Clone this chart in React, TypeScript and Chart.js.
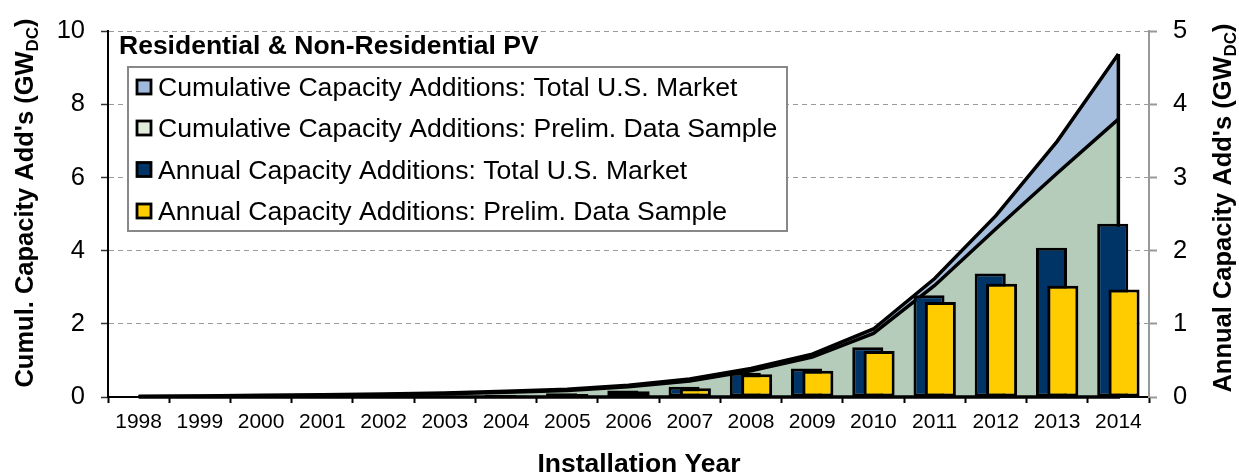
import React, { useEffect, useRef } from 'react';
import { Chart, registerables } from 'chart.js';

Chart.register(...registerables);

// ---------- data ----------
const years = ['1998', '1999', '2000', '2001', '2002', '2003', '2004', '2005', '2006', '2007', '2008', '2009', '2010', '2011', '2012', '2013', '2014'];
// cumulative capacity (GW DC, left axis)
const cumulTotal = [0.02, 0.03, 0.045, 0.06, 0.08, 0.11, 0.16, 0.21, 0.32, 0.49, 0.78, 1.17, 1.86, 3.24, 4.96, 6.99, 9.38];
const cumulPrelim = [0.01, 0.02, 0.03, 0.04, 0.06, 0.09, 0.13, 0.18, 0.28, 0.44, 0.72, 1.09, 1.74, 3.05, 4.6, 6.12, 7.6];
// annual capacity (GW DC, right axis)
const annualTotal = [0.005, 0.006, 0.008, 0.01, 0.015, 0.02, 0.03, 0.05, 0.09, 0.14, 0.33, 0.39, 0.68, 1.39, 1.69, 2.04, 2.37];
const annualPrelim = [0.003, 0.004, 0.005, 0.006, 0.01, 0.015, 0.02, 0.04, 0.08, 0.12, 0.31, 0.36, 0.63, 1.30, 1.55, 1.52, 1.47];

const legendTitle = 'Residential & Non-Residential PV';
const legendLabels = [
  'Cumulative Capacity Additions: Total U.S. Market',
  'Cumulative Capacity Additions: Prelim. Data Sample',
  'Annual Capacity Additions: Total U.S. Market',
  'Annual Capacity Additions: Prelim. Data Sample',
];
const legendSwatches = ['#9FBADC', '#E2ECDA', '#003366', '#FFCC00'];
const xTitle = 'Installation Year';
const leftTitle = ["Cumul. Capacity Add's (GW", 'DC', ')'];
const rightTitle = ["Annual Capacity Add's (GW", 'DC', ')'];

const FONT = '"Liberation Sans", Arial, Helvetica, sans-serif';

function drawRichText(ctx: CanvasRenderingContext2D, parts: string[], cx: number, cy: number) {
  ctx.save();
  ctx.translate(cx, cy);
  ctx.rotate(-Math.PI / 2);
  const big = 'bold 25.5px ' + FONT;
  const small = 'bold 17px ' + FONT;
  ctx.font = big;
  const w0 = ctx.measureText(parts[0]).width;
  const w2 = ctx.measureText(parts[2]).width;
  ctx.font = small;
  const w1 = ctx.measureText(parts[1]).width;
  let x = -(w0 + w1 + w2) / 2;
  ctx.fillStyle = '#000';
  ctx.textBaseline = 'alphabetic';
  ctx.textAlign = 'left';
  ctx.font = big;
  ctx.fillText(parts[0], x, 9);
  x += w0;
  ctx.font = small;
  ctx.fillText(parts[1], x, 14);
  x += w1;
  ctx.font = big;
  ctx.fillText(parts[2], x, 9);
  ctx.restore();
}

const customPlugin = {
  id: 'customDecor',
  beforeDatasetDraw(chart: any, args: any) {
    if (args.index === 3) return false;
  },
  afterDatasetDraw(chart: any, args: any) {
    if (args.index === 1) {
      // close the area outline: right edge and bottom edge, like the spreadsheet area border
      const ctx = chart.ctx;
      const last = years.length - 1;
      const x0 = chart.scales.x.getPixelForValue(0);
      const x1 = chart.scales.x.getPixelForValue(last);
      const yTop = chart.scales.y.getPixelForValue(cumulTotal[last]);
      const yBot = chart.scales.y.getPixelForValue(0);
      ctx.save();
      ctx.strokeStyle = '#000';
      ctx.lineWidth = 3.5;
      ctx.lineJoin = 'miter';
      ctx.beginPath();
      ctx.moveTo(x1, yTop);
      ctx.lineTo(x1, yBot);
      ctx.lineTo(x0, yBot);
      ctx.stroke();
      ctx.restore();
    }
  },
  afterDatasetsDraw(chart: any) {
    const meta = chart.getDatasetMeta(3);
    chart.ctx.save();
    meta.controller.draw();
    chart.ctx.restore();
  },
  afterDraw(chart: any) {
    const ctx: CanvasRenderingContext2D = chart.ctx;
    // legend frame
    ctx.save();
    ctx.fillStyle = '#fff';
    ctx.fillRect(128, 67, 659, 164);
    ctx.strokeStyle = '#888';
    ctx.lineWidth = 2;
    ctx.strokeRect(128, 67, 659, 164);
    // legend title
    ctx.fillStyle = '#000';
    ctx.font = 'bold 26.5px ' + FONT;
    ctx.textBaseline = 'alphabetic';
    ctx.textAlign = 'left';
    ctx.fillText(legendTitle, 119, 54);
    // legend items
    const centers = [87, 128, 169.5, 211];
    ctx.font = '26.6px ' + FONT;
    legendLabels.forEach((lab, i) => {
      const cy = centers[i];
      ctx.fillStyle = legendSwatches[i];
      ctx.fillRect(137, cy - 7, 14, 14);
      ctx.strokeStyle = '#000';
      ctx.lineWidth = 2.8;
      ctx.strokeRect(137, cy - 7, 14, 14);
      ctx.fillStyle = '#000';
      ctx.fillText(lab, 158, cy + 9.3);
    });
    // x title
    ctx.font = 'bold 26.5px ' + FONT;
    ctx.textAlign = 'center';
    ctx.fillText(xTitle, 639, 472);
    ctx.restore();
    drawRichText(ctx, leftTitle, 24, 203);
    drawRichText(ctx, rightTitle, 1222, 208);
  },
};

export default function App() {
  const ref = useRef<HTMLCanvasElement | null>(null);
  useEffect(() => {
    if (!ref.current) return;
    const chart = new Chart(ref.current, {
      type: 'bar',
      data: {
        labels: years,
        datasets: [
          {
            type: 'line',
            label: legendLabels[0],
            data: cumulTotal,
            yAxisID: 'y',
            fill: 'origin',
            backgroundColor: '#A7BFDE',
            borderColor: '#000',
            borderWidth: 3.5,
            pointRadius: 0,
            tension: 0,
            order: 4,
          } as any,
          {
            type: 'line',
            label: legendLabels[1],
            data: cumulPrelim,
            yAxisID: 'y',
            fill: 'origin',
            backgroundColor: '#B5CCBB',
            borderColor: '#000',
            borderWidth: 3.5,
            pointRadius: 0,
            tension: 0,
            order: 3,
          } as any,
          {
            type: 'bar',
            label: legendLabels[2],
            data: annualTotal,
            yAxisID: 'y1',
            backgroundColor: '#003366',
            borderColor: '#000',
            borderWidth: 3,
            borderSkipped: false,
            categoryPercentage: 0.37,
            barPercentage: 2.74,
            order: 1,
          } as any,
          {
            type: 'bar',
            label: legendLabels[3],
            data: annualPrelim,
            yAxisID: 'y1',
            backgroundColor: '#FFCC00',
            borderColor: '#000',
            borderWidth: 3,
            borderSkipped: false,
            categoryPercentage: 0.37,
            barPercentage: 2.74,
            order: 2,
          } as any,
        ],
      },
      options: {
        responsive: false,
        animation: false,
        devicePixelRatio: 1,
        layout: { padding: { top: 23, left: 0, right: 0, bottom: 0 } },
        plugins: {
          legend: { display: false },
          tooltip: { enabled: false },
          title: { display: false },
        },
        scales: {
          x: {
            type: 'category',
            offset: true,
            grid: {
              offset: true,
              drawOnChartArea: false,
              drawTicks: true,
              tickLength: 6,
              tickColor: '#000',
              tickWidth: 2,
            },
            border: { display: true, color: '#000', width: 2 },
            ticks: {
              color: '#000',
              font: { family: FONT, size: 21 },
              padding: 7,
              maxRotation: 0,
              autoSkip: false,
            },
            afterFit: (s: any) => {
              s.height = 78;
            },
          },
          y: {
            position: 'left',
            min: 0,
            max: 10,
            ticks: {
              stepSize: 2,
              color: '#000',
              font: { family: FONT, size: 25.5 },
              padding: 16,
            },
            grid: {
              color: (c: any) => (c.tick && c.tick.value === 0 ? 'rgba(0,0,0,0)' : '#9a9a9a'),
              lineWidth: 1,
              tickLength: 7,
              tickColor: '#333',
              tickWidth: 1.5,
            },
            border: { display: true, color: '#000', width: 2, dash: [5, 4] },
            afterFit: (s: any) => {
              s.width = 108;
            },
          },
          y1: {
            position: 'right',
            min: 0,
            max: 5,
            ticks: {
              stepSize: 1,
              color: '#000',
              font: { family: FONT, size: 25.5 },
              padding: 16,
            },
            grid: {
              drawOnChartArea: false,
              tickLength: 8,
              tickColor: '#999',
              tickWidth: 2,
            },
            border: { display: true, color: '#999', width: 2 },
            afterFit: (s: any) => {
              s.width = 90;
            },
          },
        },
      } as any,
      plugins: [customPlugin as any],
    });
    return () => chart.destroy();
  }, []);

  return (
    <div style={{ position: 'fixed', left: 0, top: 0, width: 1239, height: 475, background: '#fff' }}>
      <canvas ref={ref} width={1239} height={475} style={{ width: 1239, height: 475, display: 'block' }} />
    </div>
  );
}
